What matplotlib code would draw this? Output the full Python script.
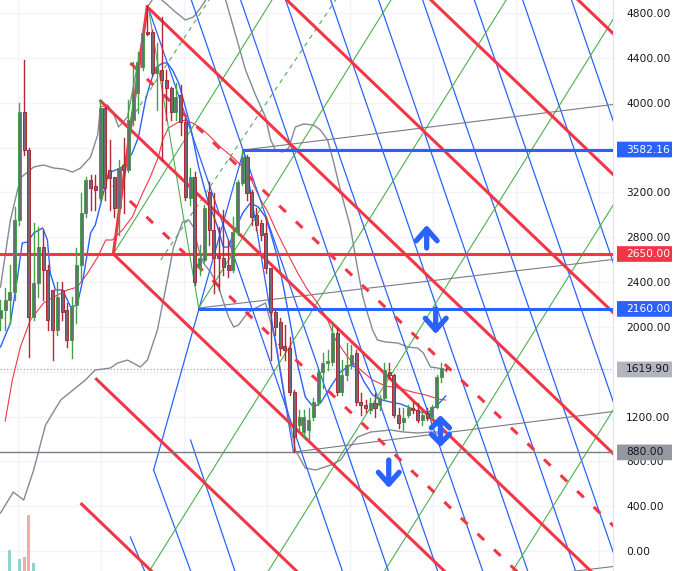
import matplotlib.pyplot as plt
from matplotlib.patches import Rectangle, FancyBboxPatch
from matplotlib.transforms import blended_transform_factory
import numpy as np

# ---------------------------------------------------------------- candles (bar index = position)
opens = [2079, 2150, 2239, 2311, 2953, 3917, 3578, 2088, 2391, 2712, 2507, 2329, 1972, 2329, 2150, 1883,
         2195, 2552, 3016, 3310, 3257, 3149, 3952, 3399, 3337, 3060, 3444, 3399, 3845, 4086, 4318, 4630,
         4630, 4265, 4291, 4202, 4131, 3917, 4068, 3828, 3149, 3337, 2534, 2596, 3203, 2864, 2632, 2614,
         2552, 2507, 2846, 3283, 3515, 3203, 2998, 2926, 2837, 2525, 2132, 2043, 1829, 1811, 1419, 1124,
         1062, 1080, 1196, 1329, 1597, 1677, 1686, 1945, 1419, 1570, 1660, 1767, 1329, 1303, 1258, 1320,
         1303, 1365, 1597, 1570, 1213, 1151, 1213, 1276, 1258, 1169, 1231, 1196, 1285, 1552, 1624]
highs = [2239, 2346, 2552, 3069, 3997, 4381, 3596, 2926, 2891, 2864, 2552, 2329, 2400, 2400, 2213, 2266,
         2703, 3194, 3337, 3355, 3355, 4024, 3961, 3667, 3337, 3488, 3685, 4024, 4363, 4452, 4693, 4862,
         4648, 4532, 4764, 4291, 4140, 4175, 4158, 3863, 3417, 3381, 2730, 3087, 3292, 3194, 2891, 3042,
         2775, 2980, 3310, 3578, 3533, 3221, 3060, 2953, 2980, 2525, 2150, 2079, 2016, 1909, 1436, 1258,
         1258, 1276, 1365, 1615, 1767, 1793, 2034, 1990, 1704, 1856, 1838, 1793, 1410, 1347, 1365, 1410,
         1392, 1677, 1677, 1579, 1276, 1276, 1303, 1329, 1320, 1240, 1276, 1303, 1570, 1677, 1633]
lows = [1972, 1972, 2034, 2239, 2909, 3533, 1731, 2061, 2266, 2239, 1972, 1704, 1927, 2061, 1820, 1722,
        2034, 2418, 2980, 3042, 3042, 3132, 3132, 3042, 2980, 2819, 3016, 3381, 3801, 3908, 4291, 4604,
        4247, 3935, 3488, 3845, 3845, 3845, 3712, 3132, 3087, 2373, 2462, 2578, 2730, 2302, 2329, 2462,
        2445, 2489, 2819, 3265, 3132, 2909, 2864, 2775, 2480, 1704, 1927, 1749, 1704, 1392, 883, 1080,
        1008, 990, 1169, 1303, 1454, 1615, 1660, 1392, 1392, 1526, 1633, 1303, 1213, 1240, 1231, 1196,
        1258, 1347, 1544, 1196, 1097, 1080, 1196, 1231, 1151, 1124, 1169, 1187, 1276, 1508, 1606]
closes = [2150, 2239, 2311, 2953, 3917, 3578, 2088, 2391, 2712, 2507, 2061, 1972, 2266, 2132, 1883, 2177,
          2552, 3016, 3310, 3239, 3221, 3952, 3239, 3328, 3060, 3417, 3399, 3845, 4086, 4363, 4622, 4613,
          4265, 4309, 4202, 4131, 3917, 4051, 3828, 3158, 3337, 2400, 2614, 3060, 2864, 2614, 2614, 2534,
          2507, 2846, 3292, 3515, 3194, 2980, 2909, 2819, 2525, 2132, 1999, 1811, 1793, 1419, 1017, 1196,
          1196, 1169, 1329, 1597, 1677, 1695, 1945, 1419, 1570, 1660, 1749, 1329, 1303, 1276, 1320, 1276,
          1365, 1615, 1570, 1213, 1142, 1187, 1276, 1258, 1169, 1213, 1187, 1285, 1552, 1633, 1619.9]

vol_bars = [2, 4, 5, 6, 7]
vol_values = [2.1, 1.2, 1.4, 5.6, 0.8]

# ---------------------------------------------------------------- indicator lines (bar, price)
bb_upper_x = [0, 2.1, 4.2, 7.0, 9.1, 11.2, 13.3, 15.2, 16.9, 19.0, 20.5, 21.1, 22.6, 23.8, 24.9, 26.8, 28.1,
              29.5, 31.0, 32.7, 34.8, 36.9, 39.0, 40.7, 42.2, 43.7, 45.4, 47.5, 49.6, 51.7, 53.8, 55.9, 57.0,
              58.0, 59.5, 60.8, 62.2, 63.9, 66.0, 67.5, 69.0, 70.0, 71.7, 73.8, 75.3, 76.4, 77.4, 78.5, 79.5,
              81.2, 83.8, 85.9, 88.0, 89.2, 90.7, 92.2, 93.9]
bb_upper_y = [2355, 2953, 3328, 3426, 3444, 3417, 3408, 3381, 3417, 3515, 3712, 3961, 3979, 3908, 3783, 3872,
              4158, 4470, 4854, 4961, 4889, 4809, 4738, 4764, 4845, 4943, 4987, 4916, 4604, 4291, 4068, 3872,
              3667, 3578, 3560, 3596, 3783, 3810, 3801, 3756, 3667, 3515, 3221, 2891, 2525, 2275, 2123, 1972,
              1883, 1865, 1856, 1820, 1811, 1767, 1642, 1633, 1615]
bb_lower_x = [0, 2.7, 4.9, 7.0, 9.5, 12.7, 15.8, 17.9, 20.0, 23.2, 24.7, 26.8, 29.5, 31.0, 33.1, 35.2, 36.5,
              38.4, 39.7, 40.7, 41.8, 42.8, 44.3, 46.0, 48.1, 49.2, 50.2, 52.1, 53.8, 55.9, 58.0, 60.1, 62.2,
              64.3, 66.5, 69.6, 71.7, 73.2, 75.3, 78.1, 82.3, 85.0, 88.0, 90.7, 93.9]
bb_lower_y = [339, 526, 455, 723, 1124, 1347, 1454, 1526, 1615, 1633, 1677, 1704, 1642, 1704, 1972, 2418, 2712,
              2935, 2953, 2891, 2686, 2570, 2489, 2355, 2088, 1999, 2016, 2123, 2168, 2213, 1883, 1347, 901,
              741, 723, 767, 812, 901, 1017, 1062, 1080, 1062, 1053, 1062, 1062]
ma_blue_x = [0, 2.1, 3.6, 4.6, 5.7, 7.0, 8.9, 9.9, 10.5, 11.6, 13.1, 14.8, 16.2, 17.5, 19.0, 20.0, 21.5, 22.8,
             24.3, 25.7, 27.8, 29.1, 30.6, 31.6, 32.7, 34.2, 35.2, 36.3, 37.6, 39.0, 40.1, 41.8, 43.7, 45.8,
             47.0, 48.1, 49.2, 51.1, 52.7, 54.4, 55.9, 57.0, 58.4, 59.7, 61.2, 62.7, 64.3, 66.0, 67.5, 69.6,
             71.7, 73.8, 75.3, 76.6, 78.5, 80.6, 82.3, 84.4, 86.5, 88.6, 90.3, 92.2, 93.9]
ma_blue_y = [1820, 2034, 2445, 2748, 2757, 2837, 2882, 2775, 2480, 2329, 2329, 2177, 2195, 2445, 2837, 2909,
             3158, 3373, 3399, 3426, 3551, 3694, 4024, 4175, 4309, 4354, 4354, 4291, 4175, 3961, 3783, 3426,
             3132, 2891, 2712, 2712, 2837, 3016, 3105, 3069, 2980, 2837, 2623, 2355, 2016, 1660, 1374, 1285,
             1320, 1463, 1597, 1660, 1633, 1517, 1392, 1347, 1329, 1312, 1276, 1240, 1240, 1303, 1383]
ma_red_x = [1.0, 2.5, 4.2, 6.3, 9.1, 11.2, 14.1, 16.2, 18.4, 20.5, 22.2, 23.6, 25.7, 27.8, 30.0, 31.6, 33.3,
            34.2, 35.4, 37.6, 39.0, 40.5, 42.2, 43.7, 46.4, 49.2, 52.1, 54.9, 56.5, 58.4, 60.5, 62.7, 64.8,
            66.9, 69.0, 70.7, 73.4, 75.5, 78.5, 81.2, 84.0, 86.9, 89.7, 92.4, 93.9]
ma_red_y = [1160, 1526, 1820, 2061, 2213, 2266, 2329, 2355, 2480, 2623, 2775, 2775, 2864, 2980, 3194, 3337,
            3515, 3667, 3774, 3828, 3845, 3819, 3774, 3720, 3604, 3506, 3381, 3132, 3016, 2837, 2659, 2480,
            2329, 2213, 2061, 1883, 1722, 1633, 1526, 1472, 1454, 1419, 1392, 1356, 1347]

# ---------------------------------------------------------------- drawings: ((bar, price), (bar, price))
red_lines = [((31.2, 4845), (130, 839)), ((20.9, 4024), (130, -401)), ((23.8, 2650), (130, -1651)),
             ((20.0, 1543), (130, -2917)), ((16.9, 428), (130, -4158)), ((52.7, 5228), (130, 2097)),
             ((84.4, 5175), (130, 3328)), ((118.1, 5068), (130, 4586)), ((23.8, 2650), (31.0, 4871))]
red_dashed = [((27.4, 4354), (130, 196)), ((23.8, 3265), (130, -1035))]
blue_lines = [((31.2, 4845), (73.5, -348)), ((38.8, 5094), (83.2, -348)), ((49.2, 5094), (93.6, -348)),
              ((58.7, 5094), (103.1, -348)), ((68.2, 5094), (112.6, -348)), ((78.3, 5094), (122.7, -348)),
              ((87.6, 5094), (132.0, -348)), ((98.5, 5094), (143.0, -348)), ((108.7, 5094), (153.1, -348)),
              ((119.0, 5094), (163.4, -348)), ((32.3, 723), (41.6, -348)), ((40.1, 990), (50.8, -348)),
              ((27.4, 125), (30.4, -178)), ((32.3, 723), (51.3, 3578)), ((51.3, 3578), (61.8, 883))]
green_lines = [((23.8, 2650), (59.9, 5094)), ((41.8, 2168), (85.0, 5094)), ((54.0, -348), (134.4, 5094)),
               ((78.5, -348), (158.9, 5094)), ((105.5, -348), (185.9, 5094)), ((28.9, -348), (109.3, 5094)),
               ((31.2, 4845), (41.8, 2168))]
green_dashed = [((33.8, 2596), (70.7, 4916)), ((27.4, 3845), (44.7, 4961))]
grey_lines = [((51.3, 3578), (130, 3988)), ((41.8, 2168), (130, 2605)), ((61.8, 883), (130, 1249)),
              ((94.9, -312), (130, -134))]

level_prices = [3582.16, 2650.00, 2160.00, 880.00]
level_starts = [51.3, -1, 41.8, -1]
level_colors = ['#2962ff', '#f23645', '#2962ff', '#787b86']
last_price = 1619.90

arrows_up = [(89.9, 2703, 2909)]
arrows_down = [(91.8, 2159, 1936), (81.9, 812, 562)]
arrows_both = [(92.8, 1213, 928)]

price_ticks = [0, 400, 800, 1200, 2000, 2400, 2800, 3200, 4000, 4400, 4800]
grid_prices = list(range(0, 5200, 400))

# ---------------------------------------------------------------- figure
plt.rcParams['font.family'] = 'DejaVu Sans'
fig = plt.figure(figsize=(6.75, 5.71), dpi=100)
ax = fig.add_axes([0, 0, 613 / 675, 1])
ax.set_xlim(-0.1, 129.2)
ax.set_ylim(-178, 4916)

for p in grid_prices:
    ax.axhline(p, color='#f0f3fa', lw=1, zorder=0)
for b in np.arange(3.8, 130, 17.5):
    ax.axvline(b, color='#f0f3fa', lw=1, zorder=0)

# indicators
ax.plot(bb_upper_x, bb_upper_y, color='#868993', lw=1, zorder=2)
ax.plot(bb_lower_x, bb_lower_y, color='#868993', lw=1, zorder=2)
ax.plot(ma_red_x, ma_red_y, color='#f23645', lw=0.8, zorder=2)
ax.plot(ma_blue_x, ma_blue_y, color='#2962ff', lw=1, zorder=2)

# drawings
for (x0, y0), (x1, y1) in red_lines:
    ax.plot([x0, x1], [y0, y1], color='#f23645', lw=2.2, zorder=4, solid_capstyle='butt')
for (x0, y0), (x1, y1) in red_dashed:
    ax.plot([x0, x1], [y0, y1], color='#f23645', lw=2.2, ls=(0, (3, 4.5)), zorder=4)
for (x0, y0), (x1, y1) in blue_lines:
    ax.plot([x0, x1], [y0, y1], color='#2962ff', lw=0.9, zorder=3)
for (x0, y0), (x1, y1) in green_lines:
    ax.plot([x0, x1], [y0, y1], color='#4caf50', lw=0.8, zorder=3)
for (x0, y0), (x1, y1) in green_dashed:
    ax.plot([x0, x1], [y0, y1], color='#4caf50', lw=0.8, ls=(0, (4, 4)), zorder=3)
for (x0, y0), (x1, y1) in grey_lines:
    ax.plot([x0, x1], [y0, y1], color='#787b86', lw=0.8, zorder=3)
for p, s, c in zip(level_prices, level_starts, level_colors):
    ax.plot([s, 130], [p, p], color=c, lw=2.2 if c != '#787b86' else 1.0, zorder=4)
ax.axhline(last_price, color='#9598a1', lw=0.8, ls=(0, (1, 2)), zorder=1)

# candles
for i, (o, h, l, c) in enumerate(zip(opens, highs, lows, closes)):
    col = '#43a047' if c >= o else '#b22833'
    ax.plot([i, i], [l, h], color=col, lw=1, zorder=5)
    ax.add_patch(Rectangle((i - 0.32, min(o, c)), 0.64, max(abs(c - o), 8),
                           facecolor='#6a6d78', edgecolor=col, lw=0.7, zorder=6))

# arrows
arrow_kw = dict(color='#2962ff', lw=3.8, capstyle='round')
for b, y0, y1 in arrows_up + arrows_down:
    ax.annotate('', xy=(b, y1), xytext=(b, y0), zorder=7,
                arrowprops=dict(arrowstyle='->,head_length=0.85,head_width=0.75', shrinkA=0, shrinkB=0, **arrow_kw))
for b, y0, y1 in arrows_both:
    ax.annotate('', xy=(b, y1), xytext=(b, y0), zorder=7,
                arrowprops=dict(arrowstyle='<->,head_length=0.65,head_width=0.65', shrinkA=0, shrinkB=0, **arrow_kw))

# volume
axv = fig.add_axes([0, 0, 613 / 675, 0.1])
axv.set_xlim(ax.get_xlim())
axv.set_ylim(0, 5.71)
vol_cols = ['#92d2cc' if closes[b] >= opens[b] else '#f7a9a7' for b in vol_bars]
axv.bar(vol_bars, vol_values, width=0.65, color=vol_cols)
axv.axis('off')
axv.patch.set_alpha(0)

# price scale
for s in ['top', 'left', 'bottom']:
    ax.spines[s].set_visible(False)
ax.spines['right'].set_color('#e0e3eb')
ax.set_xticks([])
ax.yaxis.tick_right()
ax.set_yticks(price_ticks)
ax.set_yticklabels([f'{p:.2f}' for p in price_ticks])
ax.tick_params(axis='y', length=0, pad=9.5, labelsize=7.7, labelcolor='#131722')

tr = blended_transform_factory(fig.transFigure, ax.transData)
box_colors = ['#2962ff', '#f23645', '#2962ff', '#b2b5be', '#9598a1']
text_colors = ['white', 'white', 'white', '#131722', '#131722']
for p, fc, tc in zip(level_prices[:3] + [last_price, level_prices[3]], box_colors, text_colors):
    ax.add_patch(FancyBboxPatch((617 / 675, p - 70), 55 / 675, 140, boxstyle='round,pad=0,rounding_size=0.003',
                                transform=tr, facecolor=fc, edgecolor='none', clip_on=False, zorder=10))
    ax.text(626 / 675, p, f'{p:.2f}', transform=tr, color=tc, fontsize=7.7, va='center', ha='left', zorder=11)

fig.savefig('out.png', dpi=100)
